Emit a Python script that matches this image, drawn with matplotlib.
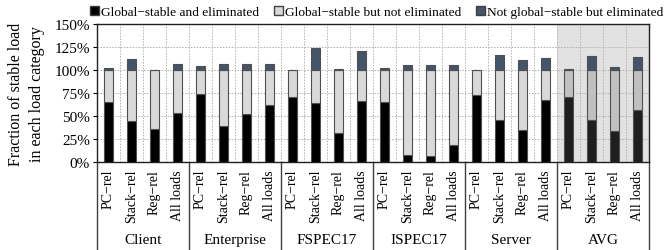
import numpy as np
import matplotlib
matplotlib.use("Agg")
import matplotlib.pyplot as plt
import matplotlib.transforms as mtransforms
from matplotlib.patches import Patch

plt.rcParams["font.family"] = ["Liberation Serif", "DejaVu Serif"]

groups = ["Client", "Enterprise", "FSPEC17", "ISPEC17", "Server", "AVG"]
categories = ["PC\u2212rel", "Stack\u2212rel", "Reg\u2212rel", "All loads"]

# global-stable and eliminated (%)
stable_elim = [65.5, 45, 36, 53,
               74, 39, 52.5, 62.5,
               70.5, 64, 32, 66,
               65, 7.5, 6.5, 18,
               73, 46, 34.5, 67,
               70.5, 45.5, 33.5, 57]
# total height incl. not global-stable but eliminated (%)
total = [102, 111.5, 100, 107,
         104, 107, 106.5, 107,
         100.5, 124, 101, 120.5,
         102.5, 105.5, 105, 105,
         100.5, 116.5, 111, 113.5,
         101.5, 115, 103.5, 114]

stable_elim = np.array(stable_elim)
total = np.array(total)
stable_not_elim = 100 - stable_elim
not_stable_elim = total - 100

n = len(stable_elim)
x = np.arange(n)
is_avg = x >= 20

c_black = np.where(is_avg, "#1e1e1e", "#000000")
c_gray = np.where(is_avg, "#c0c0c0", "#d9d9d9")
c_blue = "#44546a"
edge = "#505050"

fig = plt.figure(figsize=(6.71, 2.51), dpi=100)
ax = fig.add_axes([97 / 671, 88 / 251, 552 / 671, 138 / 251])

ax.axvspan(19.5, 23.5, color="#e2e2e2", zorder=0, lw=0)

w = 0.42
ax.bar(x, stable_elim, w, color=c_black, edgecolor=edge, lw=0.8, zorder=3)
ax.bar(x, stable_not_elim, w, bottom=stable_elim, color=c_gray,
       edgecolor=edge, lw=0.8, zorder=3)
ax.bar(x, not_stable_elim, w, bottom=100, color=c_blue,
       edgecolor=edge, lw=0.8, zorder=3)

ax.set_xlim(-0.5, n - 0.5)
ax.set_ylim(0, 150)
ax.set_yticks(np.arange(0, 151, 25))
ax.set_yticklabels([f"{v}%" for v in range(0, 151, 25)], fontsize=11)
ax.set_xticks(x)
ax.set_xticklabels(categories * len(groups), rotation=90, fontsize=10)
ax.tick_params(axis="x", length=0, pad=5)
ax.tick_params(axis="y", length=3, pad=2)

ax.set_xticks(np.arange(0.5, n - 1, 1), minor=True)
ax.tick_params(axis="x", which="minor", length=0)
ax.grid(axis="y", which="major", ls=(0, (1.5, 1.5)), color="#b0b0b0", lw=0.7, zorder=1)
ax.grid(axis="x", which="minor", ls=(0, (1.5, 1.5)), color="#b0b0b0", lw=0.7, zorder=1)
ax.grid(axis="x", which="major", visible=False)

for s in ax.spines.values():
    s.set_color("#202020")
    s.set_linewidth(1.0)

ax.set_ylabel("Fraction of stable load\nin each load category", fontsize=11.5,
              linespacing=1.4, labelpad=7)

trans = mtransforms.blended_transform_factory(ax.transData, ax.transAxes)
for b in np.arange(-0.5, n, 4):
    ax.plot([b, b], [0, -0.64], transform=trans, color="#404040", lw=1.0,
            clip_on=False)
for i, g in enumerate(groups):
    ax.text(i * 4 + 1.5, -0.56, g, transform=trans, ha="center", va="center",
            fontsize=11)

handles = [Patch(facecolor="#000000", edgecolor="#404040", label="Global\u2212stable and eliminated"),
           Patch(facecolor="#d9d9d9", edgecolor="#404040", label="Global\u2212stable but not eliminated"),
           Patch(facecolor=c_blue, edgecolor="#404040", label="Not global\u2212stable but eliminated")]
fig.legend(handles=handles, loc="upper left", bbox_to_anchor=(78 / 671, 1.02),
           ncol=3, frameon=False, fontsize=9.6, handlelength=0.65,
           handleheight=0.65, handletextpad=0.15, columnspacing=1.15)

fig.savefig("out.png", dpi=100)
